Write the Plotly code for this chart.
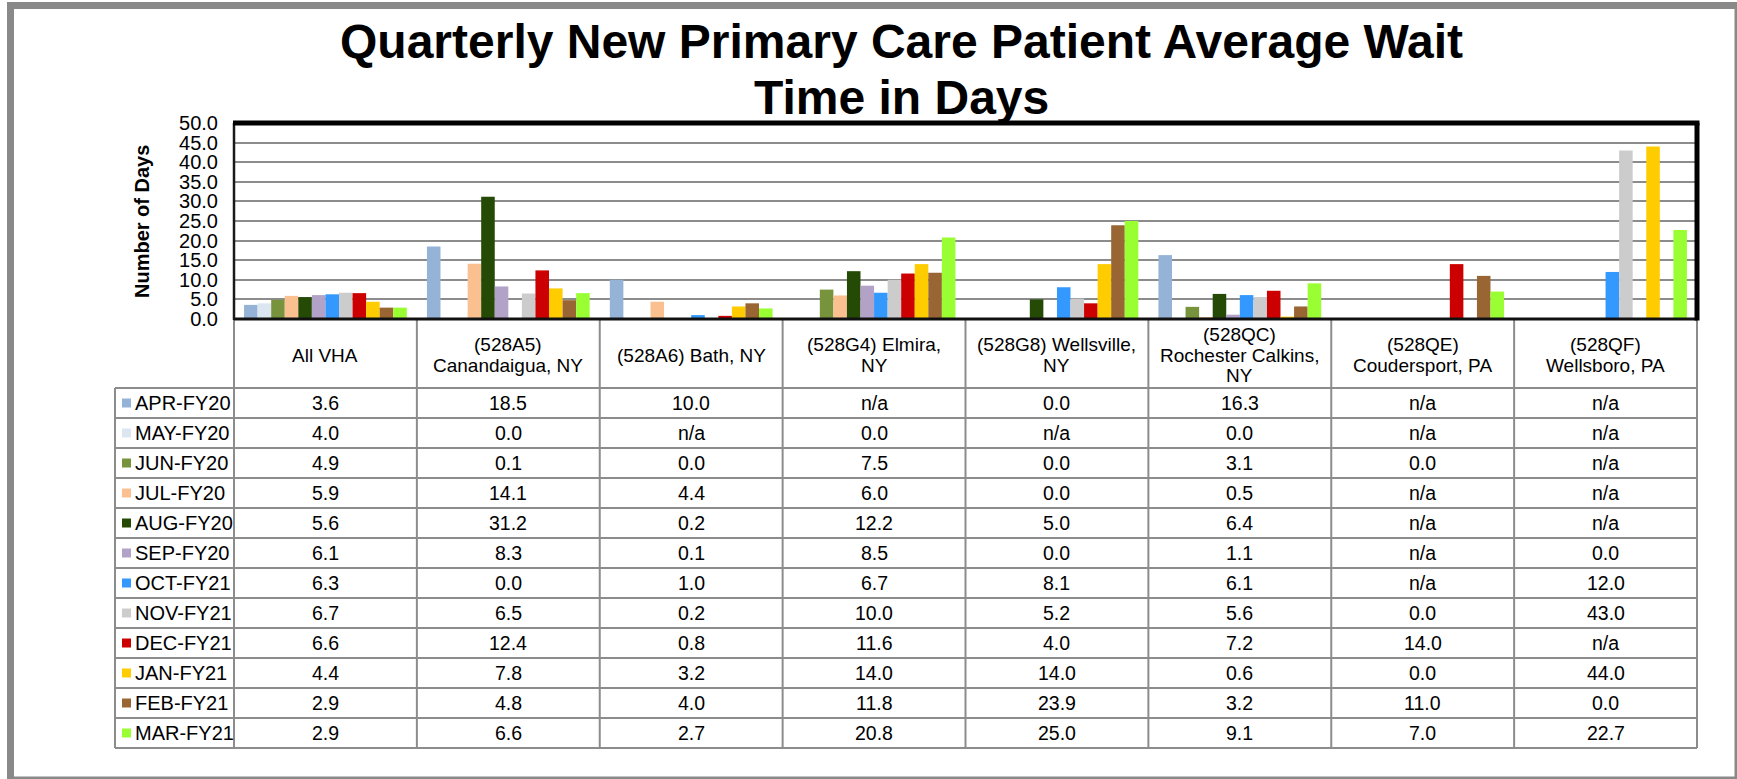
import plotly.graph_objects as go

# ---------------- data ----------------
categories = ["All VHA", "(528A5) Canandaigua, NY", "(528A6) Bath, NY", "(528G4) Elmira, NY",
              "(528G8) Wellsville, NY", "(528QC) Rochester Calkins, NY",
              "(528QE) Coudersport, PA", "(528QF) Wellsboro, PA"]
header_lines = [["All VHA"], ["(528A5)", "Canandaigua, NY"], ["(528A6) Bath, NY"],
                ["(528G4) Elmira,", "NY"], ["(528G8) Wellsville,", "NY"],
                ["(528QC)", "Rochester Calkins,", "NY"], ["(528QE)", "Coudersport, PA"],
                ["(528QF)", "Wellsboro, PA"]]
months = ["APR-FY20", "MAY-FY20", "JUN-FY20", "JUL-FY20", "AUG-FY20", "SEP-FY20",
          "OCT-FY21", "NOV-FY21", "DEC-FY21", "JAN-FY21", "FEB-FY21", "MAR-FY21"]

apr_fy20 = [3.6, 18.5, 10.0, None, 0.0, 16.3, None, None]
may_fy20 = [4.0, 0.0, None, 0.0, None, 0.0, None, None]
jun_fy20 = [4.9, 0.1, 0.0, 7.5, 0.0, 3.1, 0.0, None]
jul_fy20 = [5.9, 14.1, 4.4, 6.0, 0.0, 0.5, None, None]
aug_fy20 = [5.6, 31.2, 0.2, 12.2, 5.0, 6.4, None, None]
sep_fy20 = [6.1, 8.3, 0.1, 8.5, 0.0, 1.1, None, 0.0]
oct_fy21 = [6.3, 0.0, 1.0, 6.7, 8.1, 6.1, None, 12.0]
nov_fy21 = [6.7, 6.5, 0.2, 10.0, 5.2, 5.6, 0.0, 43.0]
dec_fy21 = [6.6, 12.4, 0.8, 11.6, 4.0, 7.2, 14.0, None]
jan_fy21 = [4.4, 7.8, 3.2, 14.0, 14.0, 0.6, 0.0, 44.0]
feb_fy21 = [2.9, 4.8, 4.0, 11.8, 23.9, 3.2, 11.0, 0.0]
mar_fy21 = [2.9, 6.6, 2.7, 20.8, 25.0, 9.1, 7.0, 22.7]

series = [apr_fy20, may_fy20, jun_fy20, jul_fy20, aug_fy20, sep_fy20,
          oct_fy21, nov_fy21, dec_fy21, jan_fy21, feb_fy21, mar_fy21]
colors = ["#95B3D7", "#DCE6F1", "#77933C", "#FAC090", "#244A05", "#B2A2C7",
          "#3399FF", "#CCCCCC", "#CC0000", "#FFCC00", "#996633", "#99FF33"]

# ---------------- geometry (pixels) ----------------
W, H = 1737, 779
PL, PR, PT, PB = 234, 1697, 123, 319
FONT = "Liberation Sans, Arial, sans-serif"


def px(X):
    return (X - PL) / (PR - PL)


def py(Y):
    return (PB - Y) / (PB - PT)


fig = go.Figure()
for name, vals, col in zip(months, series, colors):
    fig.add_trace(go.Bar(x=categories, y=vals, name=name, marker_color=col,
                         marker_line_width=0, showlegend=False))

shapes = []
annotations = []
GRID = "#8c8c8c"

# outer rounded frame
shapes.append(dict(type="rect", xref="paper", yref="paper",
                   x0=px(10.5), x1=px(1738), y0=py(5.5), y1=py(780),
                   line=dict(color="#898989", width=7), layer="above"))

# table lines
col_w = (PR - PL) / len(categories)
row_top, row_h = 388, 30
table_bottom = row_top + row_h * len(months)
leg_left = 115
for k in range(len(categories) + 1):
    X = PL + k * col_w
    shapes.append(dict(type="line", xref="paper", yref="paper",
                       x0=px(X), x1=px(X), y0=py(PB), y1=py(table_bottom),
                       line=dict(color=GRID, width=2), layer="above"))
shapes.append(dict(type="line", xref="paper", yref="paper",
                   x0=px(leg_left), x1=px(leg_left), y0=py(row_top), y1=py(table_bottom),
                   line=dict(color=GRID, width=2), layer="above"))
for r in range(len(months) + 1):
    Y = row_top + r * row_h
    shapes.append(dict(type="line", xref="paper", yref="paper",
                       x0=px(leg_left), x1=px(PR), y0=py(Y), y1=py(Y),
                       line=dict(color=GRID, width=2), layer="above"))

# plot frame
shapes.append(dict(type="line", xref="paper", yref="paper", x0=px(PL), x1=px(PL),
                   y0=py(PT), y1=py(PB + 1), line=dict(color="#1a1a1a", width=2.5), layer="above"))
shapes.append(dict(type="line", xref="paper", yref="paper", x0=px(PL), x1=px(PR),
                   y0=py(PB), y1=py(PB), line=dict(color="#111111", width=3), layer="above"))
shapes.append(dict(type="line", xref="paper", yref="paper", x0=px(PL - 1), x1=px(PR + 2.5),
                   y0=py(PT), y1=py(PT), line=dict(color="black", width=5), layer="above"))
shapes.append(dict(type="line", xref="paper", yref="paper", x0=px(PR), x1=px(PR),
                   y0=py(PT), y1=py(PB + 1.5), line=dict(color="black", width=5), layer="above"))

# header texts (one annotation per line for tight line spacing)
head_center, head_pitch = 355, 20.5
for k, lines in enumerate(header_lines):
    n = len(lines)
    for i, ln in enumerate(lines):
        Yc = head_center + (i - (n - 1) / 2) * head_pitch
        annotations.append(dict(xref="paper", yref="paper", x=px(PL + (k + 0.5) * col_w),
                                y=py(Yc), text=ln, showarrow=False,
                                xanchor="center", yanchor="middle",
                                font=dict(family=FONT, size=19, color="black")))

# rows: legend keys, labels, values
for r, (name, vals, col) in enumerate(zip(months, series, colors)):
    Yc = row_top + (r + 0.5) * row_h
    shapes.append(dict(type="rect", xref="paper", yref="paper",
                       x0=px(122), x1=px(131), y0=py(Yc - 4.5), y1=py(Yc + 4.5),
                       fillcolor=col, line=dict(width=0), layer="above"))
    annotations.append(dict(xref="paper", yref="paper", x=px(133), y=py(Yc), text=name,
                            showarrow=False, xanchor="left", yanchor="middle",
                            font=dict(family=FONT, size=20, color="black")))
    for k, v in enumerate(vals):
        txt = "n/a" if v is None else f"{v:.1f}"
        annotations.append(dict(xref="paper", yref="paper", x=px(PL + (k + 0.5) * col_w),
                                y=py(Yc), text=txt, showarrow=False,
                                xanchor="center", yanchor="middle",
                                font=dict(family=FONT, size=19.5, color="black")))

# title
annotations.append(dict(xref="paper", yref="paper", x=px(901), y=py(41),
                        text="<b>Quarterly New Primary Care Patient Average Wait</b>",
                        showarrow=False, xanchor="center", yanchor="middle",
                        font=dict(family=FONT, size=48, color="black")))
annotations.append(dict(xref="paper", yref="paper", x=px(901), y=py(98),
                        text="<b>Time in Days</b>",
                        showarrow=False, xanchor="center", yanchor="middle",
                        font=dict(family=FONT, size=48, color="black")))
# y-axis title
annotations.append(dict(xref="paper", yref="paper", x=px(142), y=py(222),
                        text="<b>Number of Days</b>", textangle=-90,
                        showarrow=False, xanchor="center", yanchor="middle",
                        font=dict(family=FONT, size=20, color="black")))

fig.update_layout(
    width=W, height=H,
    margin=dict(l=PL, r=W - PR, t=PT, b=H - PB, autoexpand=False),
    paper_bgcolor="white", plot_bgcolor="white",
    barmode="group", bargap=0.11, bargroupgap=0,
    font=dict(family=FONT, size=18, color="black"),
    shapes=shapes, annotations=annotations,
    xaxis=dict(showticklabels=False, showgrid=False, zeroline=False, showline=False,
               ticks=""),
    yaxis=dict(range=[0, 50], dtick=5, tickformat=".1f", showgrid=True,
               gridcolor=GRID, gridwidth=2, zeroline=False, showline=False,
               ticks="", ticklabelstandoff=15,
               tickfont=dict(family=FONT, size=20, color="black")),
)

fig.write_html("out.html", config={"displayModeBar": False},
               post_script="document.body.style.margin='0';document.body.style.overflow='hidden';")
